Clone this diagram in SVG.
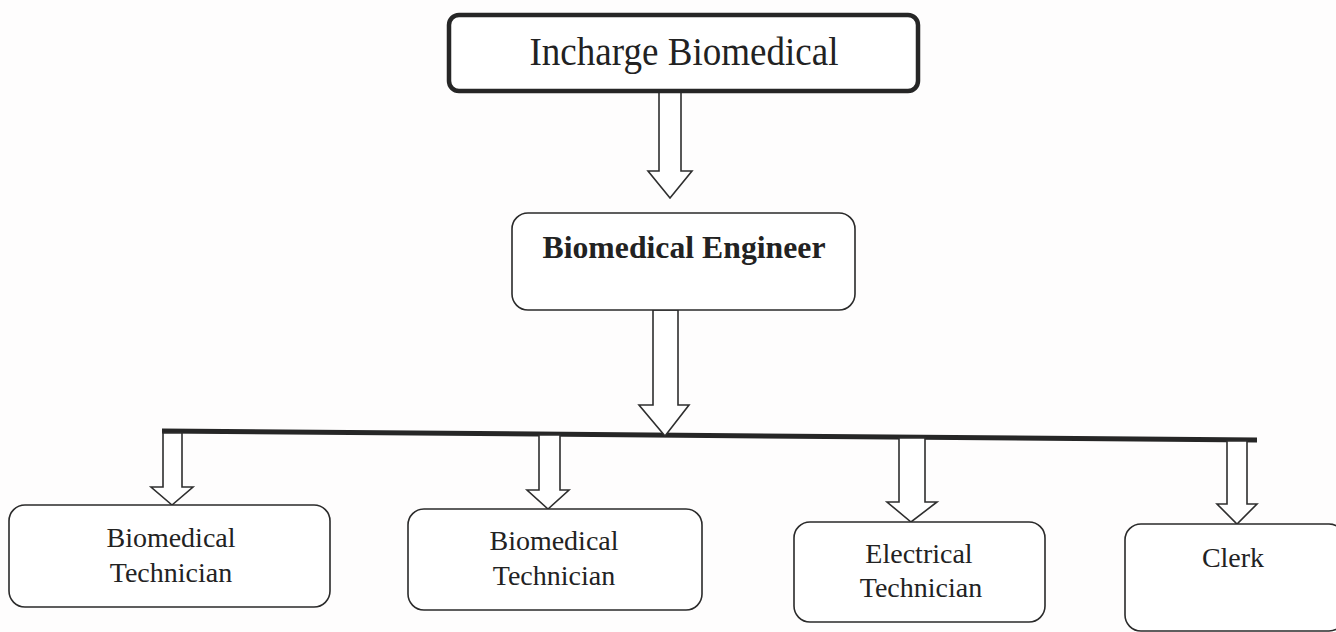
<svg xmlns="http://www.w3.org/2000/svg" width="1336" height="632" viewBox="0 0 1336 632">
<style>
.box{fill:#fff;stroke:#2a2a2a;stroke-width:1.6}
.top{fill:#fff;stroke:#262626;stroke-width:4.5}
.arr{fill:#fff;stroke:#2e2e2e;stroke-width:1.6;stroke-linejoin:miter}
.t{font-family:"Liberation Serif","Times New Roman",serif;fill:#222;text-anchor:middle}
.s{font-size:28px}
</style>
<rect width="1336" height="632" fill="#fefdfd"/>
<g id="connectors">
<line x1="162" y1="431" x2="1257" y2="440" stroke="#262626" stroke-width="5"/>
<polygon class="arr" points="659,90 681,90 681,171 692,171 670,198 648,171 659,171"/>
<polygon class="arr" points="653,310 678,310 678,405 689,405 665,436 639,405 653,405"/>
<polygon class="arr" points="163,433 182,433 182,487 193,487 172,505 151,487 163,487"/>
<polygon class="arr" points="539,435 560,435 560,490 569,490 548,509 527,490 539,490"/>
<polygon class="arr" points="899,438 925,438 925,502 937,502 911,522 887,502 899,502"/>
<polygon class="arr" points="1227,441 1247,441 1247,504 1257,504 1237,524 1217,504 1227,504"/>
</g>
<g id="incharge">
<rect class="top" x="449" y="15" width="469" height="76" rx="10"/>
<text class="t" x="684" y="65" font-size="41" textLength="309" lengthAdjust="spacingAndGlyphs">Incharge Biomedical</text>
</g>
<g id="engineer">
<rect class="box" x="512" y="213" width="343" height="97" rx="16"/>
<text class="t" x="684" y="258" font-size="31" font-weight="bold" textLength="283" lengthAdjust="spacingAndGlyphs">Biomedical Engineer</text>
</g>
<g id="tech1">
<rect class="box" x="9" y="505" width="321" height="102" rx="16"/>
<text class="t s" x="171" y="547">Biomedical</text>
<text class="t s" x="171" y="582">Technician</text>
</g>
<g id="tech2">
<rect class="box" x="408" y="509" width="294" height="101" rx="16"/>
<text class="t s" x="554" y="550">Biomedical</text>
<text class="t s" x="554" y="585">Technician</text>
</g>
<g id="electrical">
<rect class="box" x="794" y="522" width="251" height="100" rx="16"/>
<text class="t s" x="919" y="563">Electrical</text>
<text class="t s" x="921" y="597">Technician</text>
</g>
<g id="clerk">
<rect class="box" x="1125" y="524" width="220" height="107" rx="16"/>
<text class="t s" x="1233" y="567">Clerk</text>
</g>
</svg>
